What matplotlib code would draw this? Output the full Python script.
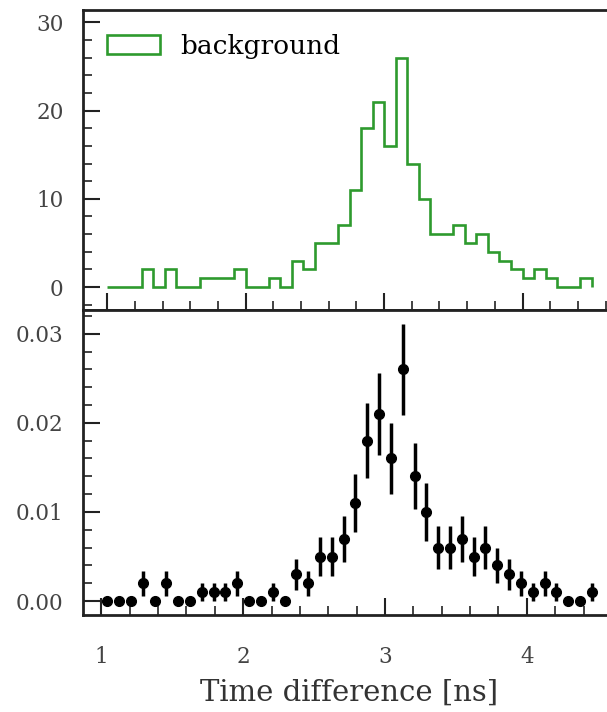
import numpy as np
import matplotlib
matplotlib.use("Agg")
import matplotlib.pyplot as plt
from matplotlib.ticker import MultipleLocator

# ---- data ----
bin_edges = np.linspace(1.0, 4.5, 43)  # 42 bins
bkg_counts = [0, 0, 0, 2, 0, 2, 0, 0, 1, 1, 1, 2, 0, 0, 1, 0, 3, 2, 5, 5,
              7, 11, 18, 21, 16, 26, 14, 10, 6, 6, 7, 5, 6, 4, 3, 2, 1, 2, 1, 0, 0, 1]
norm_values = [0.000, 0.000, 0.000, 0.002, 0.000, 0.002, 0.000, 0.000, 0.001, 0.001,
               0.001, 0.002, 0.000, 0.000, 0.001, 0.000, 0.003, 0.002, 0.005, 0.005,
               0.007, 0.011, 0.018, 0.021, 0.016, 0.026, 0.014, 0.010, 0.006, 0.006,
               0.007, 0.005, 0.006, 0.004, 0.003, 0.002, 0.001, 0.002, 0.001, 0.000,
               0.000, 0.001]
norm_errors = [0.0, 0.0, 0.0, 0.0014, 0.0, 0.0014, 0.0, 0.0, 0.001, 0.001,
               0.001, 0.0014, 0.0, 0.0, 0.001, 0.0, 0.0017, 0.0014, 0.0022, 0.0022,
               0.0026, 0.0033, 0.0042, 0.0046, 0.004, 0.0051, 0.0037, 0.0032, 0.0024, 0.0024,
               0.0026, 0.0022, 0.0024, 0.002, 0.0017, 0.0014, 0.001, 0.0014, 0.001, 0.0,
               0.0, 0.001]
x_ticks = [1, 2, 3, 4]
top_yticks = [0, 10, 20, 30]
bot_yticks = [0.00, 0.01, 0.02, 0.03]

plt.rcParams['font.family'] = ['DejaVu Serif']
DPI = 100
W, H = 607, 712
fig = plt.figure(figsize=(W / DPI, H / DPI), dpi=DPI)

left = 83 / W
width = 533 / W
ax1 = fig.add_axes([left, 1 - 310 / H, width, 300 / H])
ax2 = fig.add_axes([left, 1 - 615 / H, width, 305 / H])

green = '#2e9a2e'
centers = 0.5 * (bin_edges[:-1] + bin_edges[1:])
ax1.hist(centers, bins=bin_edges, weights=bkg_counts, histtype='step',
         color=green, lw=1.9, label='background')
ax1.set_ylim(-2.6, 31.4)
ax1.set_yticks(top_yticks)
ax1.yaxis.set_minor_locator(MultipleLocator(2))
ax1.set_xticks(x_ticks)
ax1.xaxis.set_minor_locator(MultipleLocator(0.2))
leg = ax1.legend(loc='upper left', frameon=False, fontsize=19, handlelength=2.0)

ax2.errorbar(centers, norm_values, yerr=norm_errors, fmt='o', color='black',
             ms=7, elinewidth=2.5, capsize=0)
ax2.set_yticks(bot_yticks)
ax2.yaxis.set_minor_locator(MultipleLocator(0.002))
ax2.set_xticks(x_ticks)
ax2.xaxis.set_minor_locator(MultipleLocator(0.2))
ax2.set_xlabel('Time difference [ns]', fontsize=21, labelpad=8, color='#333333')

for ax in (ax1, ax2):
    for s in ax.spines.values():
        s.set_linewidth(2.0)
        s.set_color('#222222')
    ax.tick_params(which='both', direction='in', colors='#222222',
                   labelcolor='#444444', labelsize=15.5)
    ax.tick_params(which='major', length=12.5, width=1.5)
    ax.tick_params(which='minor', length=6.5, width=1.2)
    ax.tick_params(axis='y', pad=14)
    ax.tick_params(axis='x', pad=22)
    ax.set_yticklabels([f'{t:g}' if ax is ax1 else f'{t:.2f}' for t in ax.get_yticks()])

ax1.tick_params(axis='x', labelbottom=False)
ax2.set_xticklabels([str(t) for t in x_ticks])

fig.savefig('out.png', dpi=DPI)
